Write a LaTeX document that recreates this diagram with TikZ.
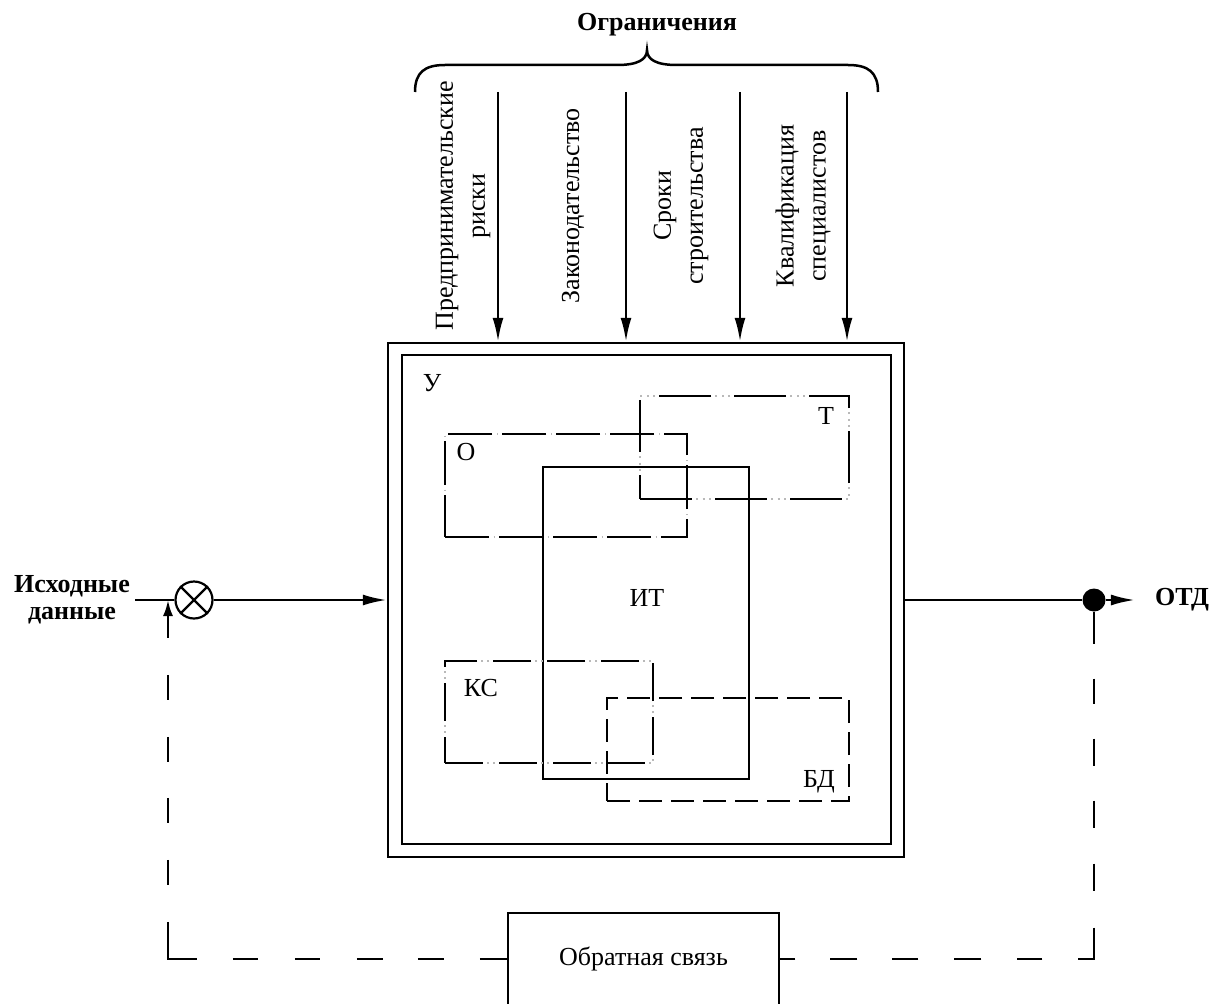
\documentclass[tikz,border=0pt]{standalone}
\usepackage{fontspec}
\setmainfont{Liberation Serif}
\usetikzlibrary{arrows.meta}
\begin{document}
\begin{tikzpicture}[x=1pt,y=-1pt,
  txt/.style={font=\fontsize{26}{32}\selectfont, inner sep=0pt},
  btxt/.style={font=\fontsize{26}{27}\selectfont\bfseries, inner sep=0pt},
  ln/.style={line width=2.5pt},
  arr/.style={ln,-{Latex[length=24pt 0,width=11pt 0]}},
  frame/.style={draw, ln, inner sep=0pt},
  dashdot/.style={frame, preaction={draw=gray!55, line width=1.2pt, dash pattern=on 44pt off 4.5pt on 1pt off 4.5pt}, dash pattern=on 44pt off 10pt},
  dashdotdot/.style={frame, preaction={draw=gray!55, line width=1.2pt, dash pattern=on 52pt off 4pt on 2pt off 4.5pt on 2pt off 4.5pt on 2pt off 4pt}, dash pattern=on 52pt off 23pt},
  ksline/.style={frame, preaction={draw=gray!55, line width=1.2pt, dash pattern=on 38pt off 4pt on 2pt off 4pt on 2pt off 4pt}, dash pattern=on 38pt off 16pt},
  bdline/.style={frame, dash pattern=on 23pt off 9pt},
  fbline/.style={ln}
]
\useasboundingbox (0,0) rectangle (1214,1003);
\clip (0,0) rectangle (1214,1003);

% title and brace
\node[btxt] (title) at (657,25) {Ограничения};
\draw[ln] (415,92) .. controls (415,72) and (425,65) .. (445,65) -- (617,65)
  .. controls (637,65) and (647,60) .. (647,50)
  .. controls (647,60) and (657,65) .. (677,65) -- (848,65)
  .. controls (868,65) and (878,72) .. (878,92);

% main block
\node[frame, minimum width=516pt, minimum height=514pt] (outer) at (646,600) {};
\node[frame, minimum width=489pt, minimum height=489pt] (inner) at (646.5,599.5) {};

% constraint arrows
\coordinate (t1) at (498,92);
\coordinate (t2) at (626,92);
\coordinate (t3) at (740,92);
\coordinate (t4) at (847,92);
\draw[arr] (t1) -- (t1 |- outer.north);
\draw[arr] (t2) -- (t2 |- outer.north);
\draw[arr] (t3) -- (t3 |- outer.north);
\draw[arr] (t4) -- (t4 |- outer.north);

% rotated labels
\node[txt, rotate=90, align=center] (c1) at (463,206) {Предпринимательские\\риски};
\node[txt, rotate=90, align=center] (c2) at (573,206) {Законодательство};
\node[txt, rotate=90, align=center] (c3) at (681,206) {Сроки\\строительства};
\node[txt, rotate=90, align=center] (c4) at (803,206) {Квалификация\\специалистов};

% inner sets
\node[dashdotdot, minimum width=209pt, minimum height=103pt] (T) at (744.5,447.5) {};
\node[dashdot, minimum width=242pt, minimum height=103pt] (O) at (566,485.5) {};
\node[frame, minimum width=206pt, minimum height=312pt] (IT) at (646,623) {};
\node[ksline, minimum width=208pt, minimum height=102pt] (KS) at (549,712) {};
\node[bdline, minimum width=242pt, minimum height=103pt] (BD) at (728,749.5) {};

\node[txt] (lU) at (432,383) {У};
\node[txt] (lO) at (466,452) {О};
\node[txt] (lT) at (826,416) {Т};
\node[txt] (lIT) at (647,598) {ИТ};
\node[txt] (lKS) at (481,688) {КС};
\node[txt] (lBD) at (819,782) {БД};

% input
\node[btxt, align=center, inner sep=5pt] (in) at (72,600) {Исходные\\данные};
\node[circle, draw, line width=2.2pt, inner sep=0pt, minimum size=37pt] (mix) at (194,600) {};
\draw[line width=2.2pt] (mix.north east) -- (mix.south west) (mix.north west) -- (mix.south east);
\draw[ln] (in.east) -- (mix.west);
\draw[arr] (mix.east) -- (outer.west);

% output
\node[circle, fill, inner sep=0pt, minimum size=23pt] (dot) at (1094,600) {};
\draw[ln] (outer.east) -- (dot.west);
\node[btxt] (otd) at (1182,600) {ОТД};
\draw[arr, shorten >=20pt] (dot.east) -- (otd.west);

% feedback
\node[frame, txt, minimum width=271pt, minimum height=92pt] (fb) at (643.5,959) {Обратная связь};
\coordinate (fbin) at (168,600);
\coordinate (fbl) at (168,959);
\coordinate (fbr) at (1094,959);
\draw[fbline, {Latex[length=16pt 0,width=10pt 0]}-, dash pattern=on 23pt off 37pt on 25pt off 37pt on 25pt off 36pt on 25pt off 37pt on 25pt off 37pt on 66pt off 36pt on 25pt off 37pt on 25pt off 37pt on 26pt off 35pt on 26pt off 36pt on 40pt]
  (fbin) -- (fbl) -- (fb.west);
\draw[fbline, dash pattern=on 32pt off 35pt on 25pt off 35pt on 27pt off 35pt on 27pt off 36pt on 27pt off 37pt on 47pt off 36pt on 25pt off 36pt on 27pt off 36pt on 26pt off 35pt on 27pt off 35pt on 30pt]
  (dot.south) -- (fbr) -- (fb.east);
\end{tikzpicture}
\end{document}
